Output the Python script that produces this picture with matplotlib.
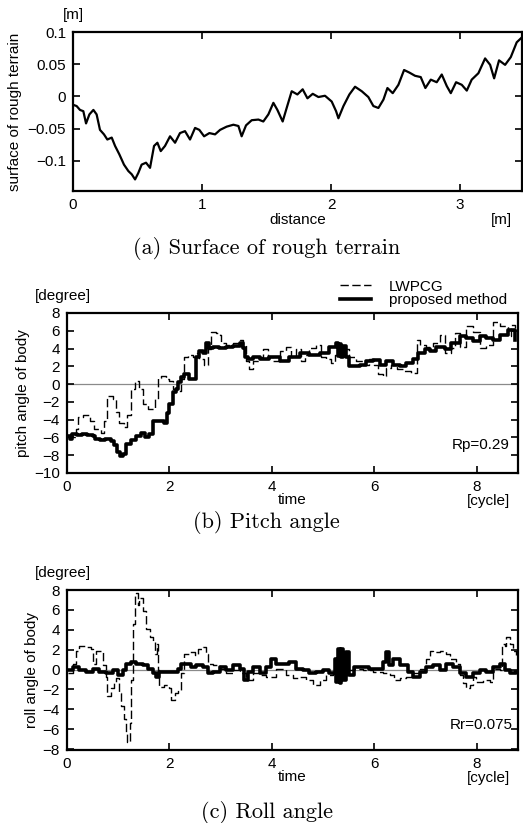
#!/usr/bin/env python

import matplotlib
matplotlib.use('Agg')
import matplotlib.pyplot as plt

# ---- (a) surface of rough terrain [m] vs distance [m]
terrainX = [0.000, 0.028, 0.054, 0.080, 0.101, 0.127, 0.158, 0.183, 0.209, 0.240,
            0.266, 0.300, 0.326, 0.359, 0.395, 0.429, 0.455, 0.481, 0.506, 0.532,
            0.566, 0.597, 0.628, 0.654, 0.680, 0.713, 0.752, 0.791, 0.829, 0.868,
            0.907, 0.946, 0.979, 1.016, 1.057, 1.101, 1.140, 1.191, 1.243, 1.282,
            1.307, 1.341, 1.385, 1.437, 1.475, 1.514, 1.553, 1.584, 1.625, 1.656,
            1.695, 1.739, 1.780, 1.817, 1.858, 1.902, 1.953, 2.005, 2.039, 2.057,
            2.096, 2.142, 2.186, 2.238, 2.289, 2.328, 2.367, 2.406, 2.437, 2.478,
            2.522, 2.566, 2.607, 2.651, 2.695, 2.731, 2.773, 2.819, 2.858, 2.897,
            2.928, 2.969, 3.013, 3.052, 3.090, 3.142, 3.194, 3.233, 3.264, 3.302,
            3.349, 3.393, 3.439, 3.481]
terrainY = [-0.013, -0.015, -0.021, -0.023, -0.042, -0.028, -0.021, -0.028, -0.052, -0.059,
            -0.067, -0.064, -0.077, -0.090, -0.106, -0.116, -0.121, -0.129, -0.119, -0.106,
            -0.103, -0.111, -0.077, -0.072, -0.085, -0.077, -0.062, -0.072, -0.057, -0.054,
            -0.067, -0.049, -0.052, -0.062, -0.057, -0.059, -0.052, -0.047, -0.044, -0.046,
            -0.062, -0.045, -0.037, -0.036, -0.039, -0.028, -0.010, -0.021, -0.039, -0.018,
            0.008, 0.003, 0.011, -0.003, 0.004, -0.001, 0.001, -0.008, -0.023, -0.034,
            -0.015, 0.003, 0.015, 0.008, -0.001, -0.015, -0.018, -0.005, 0.013, 0.005,
            0.018, 0.041, 0.037, 0.032, 0.030, 0.013, 0.026, 0.022, 0.034, 0.016,
            0.005, 0.022, 0.018, 0.009, 0.026, 0.036, 0.059, 0.049, 0.028, 0.056,
            0.049, 0.061, 0.084, 0.092]
terrainYTicks = [-0.1, -0.05, 0, 0.05, 0.1]
terrainYTickLabels = ['\u22120.1', '\u22120.05', '0', '0.05', '0.1']
terrainXTicks = [0, 1, 2, 3]

# ---- (b) pitch angle [degree] vs time [cycle]
pitchLwT = [0.00, 0.18, 0.21, 0.31, 0.44, 0.53, 0.66, 0.73, 0.79, 0.89,
            0.96, 1.02, 1.12, 1.18, 1.25, 1.32, 1.41, 1.48, 1.58, 1.66,
            1.71, 1.77, 1.84, 1.93, 2.00, 2.06, 2.13, 2.23, 2.29, 2.36,
            2.45, 2.52, 2.58, 2.68, 2.75, 2.81, 2.91, 2.98, 3.01, 3.11,
            3.24, 3.37, 3.43, 3.50, 3.56, 3.63, 3.76, 3.82, 3.92, 4.02,
            4.15, 4.28, 4.37, 4.47, 4.57, 4.64, 4.73, 4.86, 4.96, 5.06,
            5.16, 5.22, 5.32, 5.42, 5.51, 5.64, 5.77, 5.90, 6.00, 6.07,
            6.16, 6.23, 6.33, 6.43, 6.56, 6.72, 6.82, 6.88, 7.01, 7.14,
            7.27, 7.37, 7.50, 7.57, 7.66, 7.79, 7.92, 8.05, 8.18, 8.31,
            8.44, 8.57, 8.61, 8.67, 8.74]
pitchLw = [-6.0, -5.0, -3.7, -3.5, -4.1, -5.0, -5.5, -4.2, -1.3, -1.7,
           -3.1, -4.4, -4.8, -3.5, -0.55, 0.37, -0.55, -2.2, -2.8, -2.8,
           -1.7, 0.74, 0.92, 0.55, 0.37, -0.55, -0.74, 0.55, 3.1, 3.3,
           3.0, 3.5, 2.8, 2.2, 3.9, 5.9, 5.7, 5.5, 4.6, 4.4,
           4.6, 5.0, 4.4, 2.6, 1.7, 2.6, 3.0, 3.9, 3.1, 2.6,
           3.7, 4.2, 3.1, 3.9, 2.6, 3.3, 4.1, 4.4, 3.1, 2.8,
           2.4, 3.3, 4.2, 3.9, 3.1, 2.6, 2.2, 2.8, 2.2, 1.1,
           0.9, 1.8, 2.2, 1.7, 1.5, 1.3, 5.0, 4.4, 4.2, 4.6,
           5.5, 3.5, 4.1, 5.7, 4.2, 6.5, 5.9, 4.1, 4.4, 7.0,
           6.5, 6.5, 5.4, 6.6, 6.3]
pitchPmT = [0.00, 0.05, 0.10, 0.20, 0.30, 0.40, 0.50, 0.55, 0.65, 0.75,
            0.85, 0.92, 0.98, 1.04, 1.10, 1.16, 1.25, 1.35, 1.45, 1.53,
            1.60, 1.67, 1.70, 1.80, 1.90, 1.95, 2.00, 2.06, 2.13, 2.16,
            2.23, 2.29, 2.39, 2.49, 2.52, 2.58, 2.65, 2.71, 2.78, 2.84,
            2.97, 3.10, 3.24, 3.37, 3.43, 3.47, 3.53, 3.62, 3.76, 3.95,
            4.15, 4.34, 4.54, 4.73, 4.93, 5.12, 5.25, 5.28, 5.31, 5.35,
            5.38, 5.45, 5.51, 5.61, 5.71, 5.84, 5.97, 6.10, 6.23, 6.36,
            6.49, 6.62, 6.75, 6.85, 6.98, 7.08, 7.21, 7.37, 7.50, 7.66,
            7.79, 7.92, 8.05, 8.18, 8.31, 8.44, 8.61, 8.74]
pitchPm = [-5.8, -6.2, -5.6, -5.7, -5.6, -5.7, -5.8, -6.2, -6.3, -6.2,
           -6.4, -6.8, -7.6, -8.1, -7.9, -6.7, -6.3, -5.8, -5.5, -6.0,
           -5.6, -4.1, -4.1, -4.1, -4.4, -3.3, -2.2, -0.9, -0.5, 0.2,
           0.8, 1.1, 0.6, 0.6, 3.1, 3.7, 3.5, 4.6, 4.1, 4.2,
           4.1, 4.2, 4.3, 4.6, 4.1, 3.1, 2.8, 3.0, 2.8, 3.1,
           2.6, 3.1, 3.5, 3.3, 3.5, 4.2, 4.6, 3.2, 4.5, 3.0,
           4.3, 3.1, 2.0, 2.0, 2.2, 2.6, 2.7, 2.2, 2.6, 2.2,
           2.0, 2.4, 2.8, 3.5, 3.9, 3.7, 4.2, 3.9, 4.6, 5.4,
           5.2, 4.8, 5.4, 5.2, 5.0, 5.5, 6.1, 5.0]
pitchYTicks = [-10, -8, -6, -4, -2, 0, 2, 4, 6, 8]

# ---- (c) roll angle [degree] vs time [cycle]
rollLwT = [0.01, 0.11, 0.18, 0.24, 0.37, 0.47, 0.50, 0.57, 0.66, 0.70,
           0.76, 0.79, 0.86, 0.92, 0.96, 1.02, 1.05, 1.12, 1.15, 1.18,
           1.22, 1.25, 1.28, 1.32, 1.35, 1.38, 1.41, 1.48, 1.54, 1.61,
           1.67, 1.71, 1.75, 1.77, 1.80, 1.90, 2.00, 2.03, 2.10, 2.16,
           2.23, 2.29, 2.39, 2.49, 2.55, 2.65, 2.71, 2.75, 2.85, 2.98,
           3.11, 3.24, 3.37, 3.50, 3.63, 3.76, 3.89, 4.08, 4.28, 4.41,
           4.54, 4.67, 4.80, 4.93, 5.06, 5.19, 5.38, 5.58, 5.77, 5.97,
           6.17, 6.30, 6.39, 6.49, 6.62, 6.75, 6.88, 7.01, 7.08, 7.14,
           7.27, 7.40, 7.47, 7.60, 7.66, 7.73, 7.79, 7.86, 7.92, 7.99,
           8.12, 8.25, 8.31, 8.44, 8.48, 8.54, 8.57, 8.64, 8.70, 8.77]
rollLw = [-0.40, 0.59, 1.91, 2.41, 2.24, 2.08, 0.59, 1.91, 1.91, 0.43,
          -0.73, -2.71, -1.88, -1.22, -0.89, -2.38, -3.70, -5.02, -6.50, -7.33,
          -5.35, -1.06, 4.55, 7.52, 7.69, 6.53, 7.19, 5.87, 4.06, 3.23,
          2.90, 1.58, 2.57, -0.07, -1.72, -1.55, -1.88, -3.04, -2.38, -2.05,
          -0.40, 1.58, 1.75, 1.42, 2.08, 2.24, 1.58, 0.59, 0.43, 0.10,
          -0.40, -0.07, -0.40, -1.06, -0.40, -0.56, -0.73, 0.10, -0.56, -0.89,
          -0.73, -1.06, -1.55, -1.06, -0.56, -0.40, -0.07, 0.10, -0.07, -0.23,
          -0.40, -0.56, -1.06, -0.89, -0.73, -0.40, 0.10, 1.09, 1.91, 1.75,
          1.91, 1.58, 1.09, 0.59, -0.56, -1.39, -1.88, -1.55, -0.73, -1.22,
          -1.06, -1.22, 0.10, -0.07, 2.57, 2.41, 3.23, 2.57, 1.91, 1.42]
rollPmT = [0.01, 0.11, 0.24, 0.37, 0.50, 0.63, 0.76, 0.89, 0.99, 1.09,
           1.15, 1.25, 1.35, 1.48, 1.58, 1.67, 1.74, 1.80, 1.93, 2.06,
           2.16, 2.23, 2.32, 2.42, 2.52, 2.65, 2.75, 2.85, 2.98, 3.11,
           3.24, 3.37, 3.46, 3.53, 3.63, 3.76, 3.89, 3.98, 4.08, 4.21,
           4.34, 4.47, 4.60, 4.73, 4.86, 4.99, 5.12, 5.22, 5.25, 5.29,
           5.32, 5.35, 5.38, 5.45, 5.51, 5.61, 5.77, 5.90, 6.04, 6.17,
           6.23, 6.28, 6.36, 6.49, 6.65, 6.75, 6.88, 7.01, 7.14, 7.27,
           7.40, 7.53, 7.66, 7.79, 7.92, 8.05, 8.18, 8.31, 8.44, 8.54,
           8.64, 8.77]
rollPm = [-0.07, 0.26, -0.07, -0.23, 0.10, -0.23, -0.40, -0.07, -0.56, -0.07,
          0.59, 0.76, 0.59, 0.43, 0.10, -0.40, -0.73, -0.23, -0.23, -0.23,
          0.10, 0.59, 0.59, 0.26, 0.43, 0.26, -0.40, -0.23, 0.26, -0.07,
          0.43, 0.10, -1.06, -0.23, 0.26, -0.40, 0.26, 1.09, 0.59, 0.59,
          0.76, 0.10, -0.07, -0.40, -0.23, -0.07, -0.40, 1.09, -1.22, 2.08,
          -1.39, 2.08, -1.06, 1.75, -0.56, 0.26, 0.26, 0.10, 0.10, 0.76,
          1.75, 0.43, 1.09, 0.43, -0.23, -0.73, -0.23, 0.26, 0.43, -0.07,
          0.59, 0.26, -0.40, -0.73, -0.40, -0.07, -0.23, 0.26, 0.59, -0.07,
          -0.40, -0.23]
rollYTicks = [-8, -6, -4, -2, 0, 2, 4, 6, 8]
timeTicks = [0, 2, 4, 6, 8]

SANS = ['Liberation Sans', 'DejaVu Sans']
CAPTION_FONT = ['cmr10', 'DejaVu Serif']
FS = 11


def StyleAxis(ax):
    ax.tick_params(direction='in', length=5, width=1.2, top=True, right=True,
                   labelsize=FS, pad=5)
    for spine in ax.spines.values():
        spine.set_linewidth(1.6)


def AngleAxis(ax, ylabel, yticks):
    StyleAxis(ax)
    ax.axhline(0, color='#8a8a8a', lw=0.9, zorder=1)
    ax.set_xlim(0, 8.8)
    ax.set_xticks(timeTicks)
    ax.set_yticks(yticks)
    ax.set_ylabel(ylabel, fontsize=FS, labelpad=3)
    ax.set_xlabel('time', fontsize=FS, labelpad=-1)
    ax.text(-0.01, 1.06, '[degree]', transform=ax.transAxes, ha='center',
            va='bottom', fontsize=FS)
    # unit sits under the "8" tick label, level with the axis label
    ax.text(0.935, -0.175, '[cycle]', transform=ax.transAxes, ha='center',
            va='center', fontsize=FS)


def main():
    plt.rcParams['font.family'] = SANS
    plt.rcParams['axes.unicode_minus'] = True

    fig = plt.figure(figsize=(5.23, 8.23), dpi=100)

    # (a) terrain
    axA = fig.add_axes([0.1396, 0.7679, 0.8585, 0.1932])
    StyleAxis(axA)
    axA.plot(terrainX, terrainY, color='black', lw=1.6)
    axA.set_xlim(0, 3.48)
    axA.set_ylim(-0.147, 0.1)
    axA.set_xticks(terrainXTicks)
    axA.set_yticks(terrainYTicks)
    axA.set_yticklabels(terrainYTickLabels)
    axA.set_ylabel('surface of rough terrain', fontsize=FS, labelpad=4)
    axA.set_xlabel('distance', fontsize=FS, labelpad=1)
    axA.text(0.0, 1.06, '[m]', transform=axA.transAxes, ha='center',
             va='bottom', fontsize=FS)
    axA.text(0.955, -0.18, '[m]', transform=axA.transAxes, ha='center',
             va='center', fontsize=FS)
    fig.text(0.51, 1 - 248 / 823, '(a) Surface of rough terrain',
             family=CAPTION_FONT, fontsize=16, ha='center', va='center')

    # (b) pitch
    axB = fig.add_axes([0.1281, 0.4253, 0.8623, 0.1944])
    AngleAxis(axB, 'pitch angle of body', pitchYTicks)
    axB.plot(pitchLwT, pitchLw, color='black', lw=1.0, dashes=(6, 2.5),
             drawstyle='steps-post', label='LWPCG')
    axB.plot(pitchPmT, pitchPm, color='black', lw=2.6,
             drawstyle='steps-post', label='proposed method')
    axB.set_ylim(-10, 8)
    axB.text(0.982, 0.175, 'Rp=0.29', transform=axB.transAxes, ha='right',
             va='center', fontsize=FS)
    axB.legend(loc='lower left', bbox_to_anchor=(0.650, 0.627),
               bbox_transform=fig.transFigure, frameon=False, fontsize=FS,
               handlelength=2.0, handletextpad=1.2, labelspacing=-0.05,
               borderpad=0, borderaxespad=0)
    fig.text(0.51, 1 - 523 / 823, '(b) Pitch angle',
             family=CAPTION_FONT, fontsize=16, ha='center', va='center')

    # (c) roll
    axC = fig.add_axes([0.1281, 0.0887, 0.8623, 0.1944])
    AngleAxis(axC, 'roll angle of body', rollYTicks)
    axC.plot(rollLwT, rollLw, color='black', lw=1.0, dashes=(6, 2.5),
             drawstyle='steps-post')
    axC.plot(rollPmT, rollPm, color='black', lw=2.6, drawstyle='steps-post')
    axC.set_ylim(-8.1, 8)
    axC.text(0.989, 0.156, 'Rr=0.075', transform=axC.transAxes, ha='right',
             va='center', fontsize=FS)
    fig.text(0.51, 1 - 812 / 823, '(c) Roll angle',
             family=CAPTION_FONT, fontsize=16, ha='center', va='center')

    fig.savefig('out.png', dpi=100)


if __name__ == '__main__':
    main()
